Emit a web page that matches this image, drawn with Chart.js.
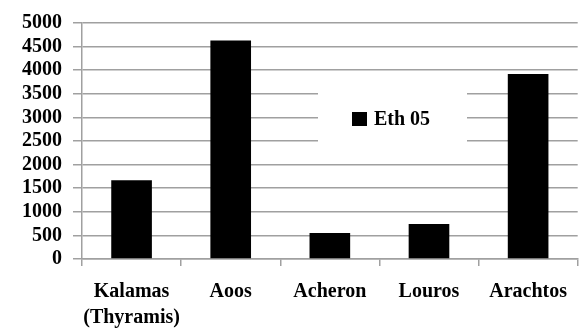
<!DOCTYPE html>
<html>
<head>
<meta charset="utf-8">
<script src="https://cdn.jsdelivr.net/npm/chart.js@4/dist/chart.umd.min.js"></script>
<style>
    html, body { margin: 0; padding: 0; background: #fff; }
    #wrap { width: 580px; height: 331px; }
</style>
</head>
<body>
<div id="wrap"><canvas id="flow-chart"></canvas></div>
<script>
// River basins and their values
const rivers = [['Kalamas', '(Thyramis)'], 'Aoos', 'Acheron', 'Louros', 'Arachtos'];
const eth05 = [1670, 4630, 550, 740, 3920];
const seriesName = 'Eth 05';

const BAR_COLOR = '#000000';
const GRID_COLOR = '#a0a0a0';
const FAMILY = '"Liberation Serif", "Times New Roman", serif';
const FONT = { family: FAMILY, size: 20, weight: 'bold' };

// Legend drawn as a white box floating over the grid
const floatingLegend = {
    id: 'floatingLegend',
    beforeDatasetsDraw(chart) {
        const ctx = chart.ctx;
        const ds = chart.data.datasets[0];
        ctx.save();
        ctx.fillStyle = '#ffffff';
        ctx.fillRect(318, 92, 149, 70);
        ctx.fillStyle = ds.backgroundColor;
        ctx.fillRect(352, 112, 15, 14);
        ctx.fillStyle = '#000';
        ctx.font = `bold 20px ${FAMILY}`;
        ctx.textBaseline = 'middle';
        ctx.fillText(ds.label, 374, 120);
        ctx.restore();
    }
};

const ctx = document.getElementById('flow-chart').getContext('2d');
new Chart(ctx, {
    type: 'bar',
    data: {
        labels: rivers,
        datasets: [{
            label: seriesName,
            data: eth05,
            backgroundColor: BAR_COLOR,
            borderWidth: 0,
            categoryPercentage: 1.0,
            barPercentage: 0.41
        }]
    },
    options: {
        responsive: true,
        maintainAspectRatio: false,
        animation: false,
        layout: { padding: { top: 4, right: 0, left: 0, bottom: 0 } },
        scales: {
            x: {
                afterFit(scale) { scale.height = 72; },
                grid: {
                    offset: true,
                    drawOnChartArea: false,
                    color: GRID_COLOR,
                    lineWidth: 1.5,
                    tickLength: 7
                },
                border: { color: GRID_COLOR, width: 1.5 },
                ticks: {
                    color: '#000',
                    font: { ...FONT, lineHeight: 1.3 },
                    padding: 13,
                    maxRotation: 0,
                    autoSkip: false
                }
            },
            y: {
                min: 0,
                max: 5000,
                afterFit(scale) { scale.width = 82; },
                grid: {
                    color: GRID_COLOR,
                    lineWidth: 1.5,
                    tickLength: 9
                },
                border: { color: GRID_COLOR, width: 1.5 },
                ticks: {
                    stepSize: 500,
                    autoSkip: false,
                    color: '#000',
                    font: FONT,
                    padding: 11,
                    callback: (v) => String(v)
                }
            }
        },
        plugins: {
            legend: { display: false },
            tooltip: { enabled: false }
        }
    },
    plugins: [floatingLegend]
});
</script>
</body>
</html>
